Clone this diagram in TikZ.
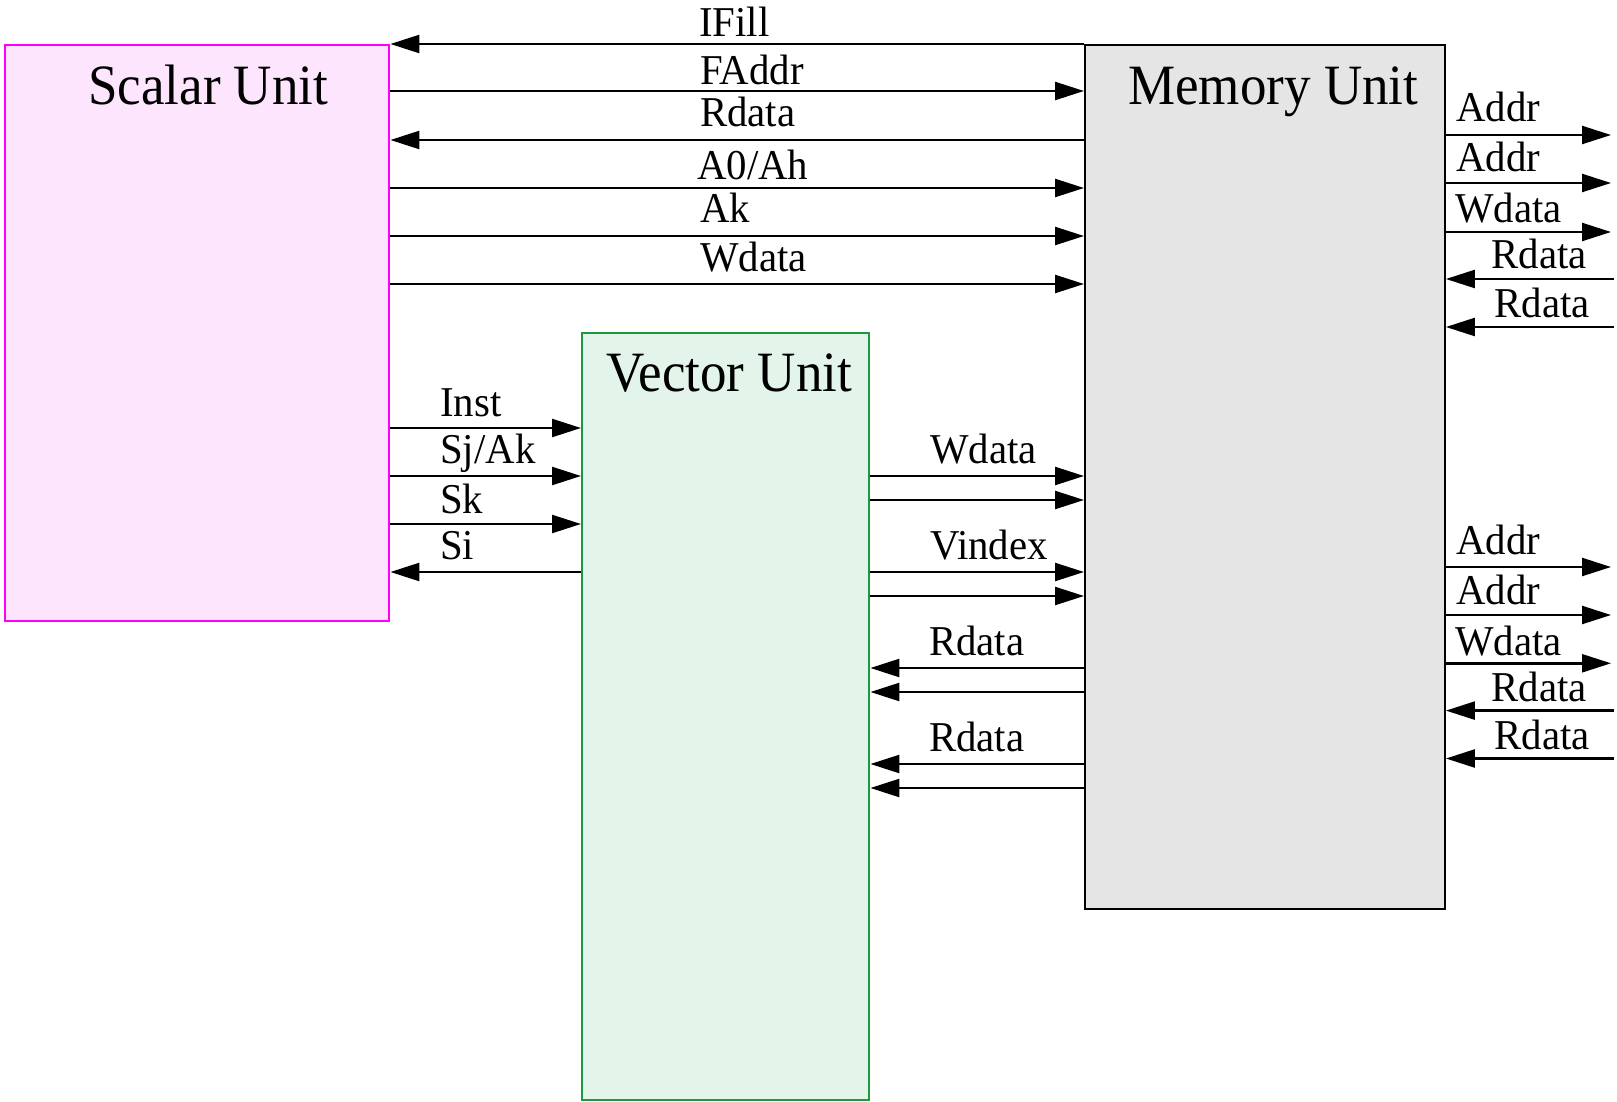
\documentclass[tikz,border=0pt]{standalone}
\usepackage{fontspec}
\setmainfont{Liberation Serif}
\newfontfamily\ttlfont[FakeStretch=0.93]{Liberation Serif}
\newfontfamily\lblfont[FakeStretch=0.96]{Liberation Serif}
\usetikzlibrary{arrows.meta}
\definecolor{scfill}{HTML}{FDE5FD}
\definecolor{scdraw}{HTML}{FF00FF}
\definecolor{vcfill}{HTML}{E3F4EA}
\definecolor{vcdraw}{HTML}{1A9A3C}
\definecolor{mmfill}{HTML}{E5E5E5}
\tikzset{
  unitbox/.style={anchor=north west, inner sep=0pt, line width=2.4pt},
  arr/.style={-{Triangle[length=29pt,width=18pt]}, line width=2.4pt},
  lbl/.style={font=\lblfont\fontsize{42.5}{48}\selectfont, anchor=base west, inner sep=0pt},
  lblr/.style={lbl, anchor=base east},
  ttl/.style={font=\ttlfont\fontsize{57}{64}\selectfont, anchor=base west, inner sep=0pt},
}
\begin{document}
\begin{tikzpicture}[x=1pt,y=-1pt]
\useasboundingbox (0,0) rectangle (1617,1102);
% boxes
\node[unitbox, draw=scdraw, fill=scfill, minimum width=384.5pt, minimum height=576pt] (scalar) at (3.5,44) {};
\node[unitbox, draw=vcdraw, fill=vcfill, minimum width=287pt, minimum height=767pt] (vector) at (581,332) {};
\node[unitbox, draw=black, fill=mmfill, minimum width=359.5pt, minimum height=863.5pt] (memory) at (1084,44) {};
% titles
\node[ttl] (tscalar) at (88,105) {Scalar Unit};
\node[ttl] (tvector) at (606,391.7) {Vector Unit};
\node[ttl] (tmemory) at (1128,104.3) {Memory Unit};
% scalar <-> memory
\draw[arr] (memory.west |- 0,44) -- (scalar.east |- 0,44);
\draw[arr] (scalar.east |- 0,91) -- (memory.west |- 0,91);
\draw[arr] (memory.west |- 0,140) -- (scalar.east |- 0,140);
\draw[arr] (scalar.east |- 0,188) -- (memory.west |- 0,188);
\draw[arr] (scalar.east |- 0,236) -- (memory.west |- 0,236);
\draw[arr] (scalar.east |- 0,284) -- (memory.west |- 0,284);
\node[lbl] (l1) at (699,37) {IFill};
\node[lbl] (l2) at (700,85) {FAddr};
\node[lbl] (l3) at (700,127) {Rdata};
\node[lbl] (l4) at (697,180) {A0/Ah};
\node[lbl] (l5) at (700,223) {Ak};
\node[lbl] (l6) at (700,271) {Wdata};
% scalar <-> vector
\draw[arr] (scalar.east |- 0,428) -- (vector.west |- 0,428);
\draw[arr] (scalar.east |- 0,476) -- (vector.west |- 0,476);
\draw[arr] (scalar.east |- 0,524) -- (vector.west |- 0,524);
\draw[arr] (vector.west |- 0,572) -- (scalar.east |- 0,572);
\node[lbl] (s1) at (440,416) {Inst};
\node[lbl] (s2) at (440,463) {Sj/Ak};
\node[lbl] (s3) at (440,513) {Sk};
\node[lbl] (s4) at (440,559) {Si};
% vector <-> memory
\draw[arr] (vector.east |- 0,476) -- (memory.west |- 0,476);
\draw[arr] (vector.east |- 0,500) -- (memory.west |- 0,500);
\draw[arr] (vector.east |- 0,572) -- (memory.west |- 0,572);
\draw[arr] (vector.east |- 0,596) -- (memory.west |- 0,596);
\draw[arr] (memory.west |- 0,668) -- (vector.east |- 0,668);
\draw[arr] (memory.west |- 0,692) -- (vector.east |- 0,692);
\draw[arr] (memory.west |- 0,764) -- (vector.east |- 0,764);
\draw[arr] (memory.west |- 0,788) -- (vector.east |- 0,788);
\node[lbl] (v1) at (930,463) {Wdata};
\node[lbl] (v2) at (930,559) {Vindex};
\node[lbl] (v3) at (929,655) {Rdata};
\node[lbl] (v4) at (929,751) {Rdata};
% memory right side, upper group
\coordinate (o1) at (1611,135);
\coordinate (o2) at (1611,183);
\coordinate (o3) at (1611,232);
\coordinate (i1) at (1614,279);
\coordinate (i2) at (1614,327);
\draw[arr] (memory.east |- o1) -- (o1);
\draw[arr] (memory.east |- o2) -- (o2);
\draw[arr] (memory.east |- o3) -- (o3);
\draw[arr] (i1) -- (memory.east |- i1);
\draw[arr] (i2) -- (memory.east |- i2);
\node[lbl] (r1) at (1456,122) {Addr};
\node[lbl] (r2) at (1456,172) {Addr};
\node[lbl] (r3) at (1455,223) {Wdata};
\node[lblr] (r4) at (1587,269) {Rdata};
\node[lblr] (r5) at (1590,317) {Rdata};
% memory right side, lower group
\coordinate (o4) at (1611,567);
\coordinate (o5) at (1611,615);
\coordinate (o6) at (1611,663.3);
\coordinate (i3) at (1614,710.6);
\coordinate (i4) at (1614,758.5);
\draw[arr] (memory.east |- o4) -- (o4);
\draw[arr] (memory.east |- o5) -- (o5);
\draw[arr] (memory.east |- o6) -- (o6);
\draw[arr] (i3) -- (memory.east |- i3);
\draw[arr] (i4) -- (memory.east |- i4);
\node[lbl] (r6) at (1456,554) {Addr};
\node[lbl] (r7) at (1456,604) {Addr};
\node[lbl] (r8) at (1455,655) {Wdata};
\node[lblr] (r9) at (1587,701) {Rdata};
\node[lblr] (r10) at (1590,749) {Rdata};
\end{tikzpicture}
\end{document}
